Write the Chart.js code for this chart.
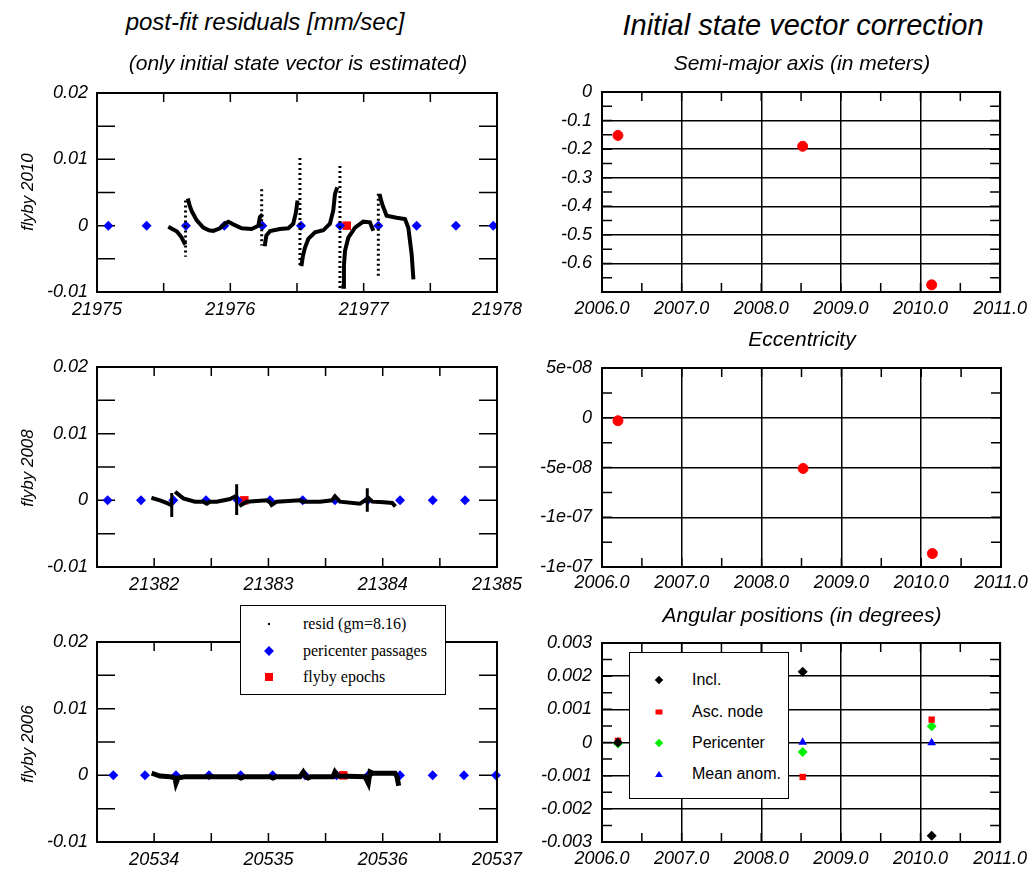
<!DOCTYPE html>
<html><head><meta charset="utf-8">
<script src="https://cdn.jsdelivr.net/npm/chart.js@4.4.1/dist/chart.umd.min.js"></script>
<style>
body{margin:0;background:#fff;width:1033px;height:870px;position:relative;overflow:hidden;font-family:'Liberation Sans',Arial,sans-serif;}
canvas{position:absolute;}
.t{position:absolute;white-space:nowrap;font-style:italic;color:#000;transform:translate(-50%,-50%);line-height:1;}
.yl{position:absolute;white-space:nowrap;font-style:italic;font-size:17px;line-height:1;transform:translate(-50%,-50%) rotate(-90deg);}
.leg{position:absolute;background:#fff;border:1.5px solid #000;box-sizing:border-box;}
.it{position:absolute;white-space:nowrap;line-height:1;transform:translateY(-50%);}
.mk{position:absolute;transform:translate(-50%,-50%);}
</style>
</head><body>
<canvas id="c1" width="540" height="270" style="left:0;top:60px"></canvas>
<canvas id="c2" width="540" height="270" style="left:0;top:334px"></canvas>
<canvas id="c3" width="540" height="261" style="left:0;top:609px"></canvas>
<canvas id="c4" width="513" height="270" style="left:520px;top:60px"></canvas>
<canvas id="c5" width="513" height="270" style="left:520px;top:335px"></canvas>
<canvas id="c6" width="513" height="260" style="left:520px;top:610px"></canvas>

<div class="t" style="left:265px;top:22px;font-size:24px">post-fit residuals [mm/sec]</div>
<div class="t" style="left:298px;top:62px;font-size:21px">(only initial state vector is estimated)</div>
<div class="t" style="left:803px;top:25px;font-size:29px">Initial state vector correction</div>
<div class="t" style="left:802px;top:62px;font-size:21px">Semi-major axis (in meters)</div>
<div class="t" style="left:802px;top:338px;font-size:21px">Eccentricity</div>
<div class="t" style="left:802px;top:614px;font-size:21px">Angular positions (in degrees)</div>

<div class="yl" style="left:27px;top:192px">flyby 2010</div>
<div class="yl" style="left:27px;top:468px">flyby 2008</div>
<div class="yl" style="left:27px;top:744px">flyby 2006</div>

<div class="leg" style="left:240px;top:605px;width:206px;height:90px;font-family:'Liberation Serif',serif;font-size:16px;">
  <div class="mk" style="left:28px;top:18px;width:2px;height:2px;background:#000"></div>
  <div class="it" style="left:62px;top:18px">resid (gm=8.16)</div>
  <div class="mk" style="left:28px;top:45px;width:7px;height:7px;background:#0000ff;transform:translate(-50%,-50%) rotate(45deg)"></div>
  <div class="it" style="left:62px;top:45px">pericenter passages</div>
  <div class="mk" style="left:28px;top:71px;width:8px;height:8px;background:#ff0000"></div>
  <div class="it" style="left:62px;top:71px">flyby epochs</div>
</div>

<div class="leg" style="left:629px;top:652px;width:160px;height:147px;font-size:16px;">
  <div class="mk" style="left:29px;top:27px;width:6px;height:6px;background:#000;transform:translate(-50%,-50%) rotate(45deg)"></div>
  <div class="it" style="left:62px;top:27px">Incl.</div>
  <div class="mk" style="left:29px;top:59px;width:7px;height:5px;background:#ff0000"></div>
  <div class="it" style="left:62px;top:59px">Asc. node</div>
  <div class="mk" style="left:29px;top:90px;width:6px;height:6px;background:#00ee00;transform:translate(-50%,-50%) rotate(45deg)"></div>
  <div class="it" style="left:62px;top:90px">Pericenter</div>
  <div class="mk" style="left:29px;top:121px;width:0;height:0;border-left:4px solid transparent;border-right:4px solid transparent;border-bottom:6px solid #0000ff"></div>
  <div class="it" style="left:62px;top:121px">Mean anom.</div>
</div>

<script>
// ================= DATA =================
// residual y-axis (all three flybys)
const resYTicks = [0.02, 0.01, 0, -0.01];
const resYText  = ['0.02', '0.01', '0', '-0.01'];

// ---- flyby 2010 ----
const f2010XRange = [21975, 21978];
const f2010XTicks = [21975, 21976, 21977, 21978];
const f2010PeriX  = [21975.085, 21975.372, 21975.667, 21975.955, 21976.240, 21976.530, 21976.823, 21977.110, 21977.397, 21977.692, 21977.972];
const f2010EpochX = [21976.873];
const f2010ResX = [21975.548, 21975.600, 21975.635, 21975.655, null,
  21975.685, 21975.695, 21975.710, 21975.748, 21975.797, 21975.840, 21975.872, 21975.922, 21975.960, 21975.985, 21976.022, 21976.085, 21976.160, 21976.210, 21976.222, 21976.232, null,
  21976.260, 21976.270, 21976.298, 21976.372, 21976.435, 21976.472, 21976.492, 21976.502, null,
  21976.535, 21976.545, 21976.560, 21976.585, 21976.635, 21976.697, 21976.747, 21976.772, 21976.785, 21976.797, null,
  21976.847, 21976.852, 21976.860, 21976.885, 21976.935, 21976.997, 21977.047, 21977.067, null,
  21977.122, 21977.135, 21977.147, 21977.172, 21977.247, 21977.310, 21977.335, 21977.360, 21977.372];
const f2010ResY = [-0.0003, -0.0009, -0.0018, -0.0026, null,
  0.0038, 0.0030, 0.0022, 0.0008, -0.0003, -0.0007, -0.0008, -0.0004, 0.0003, 0.0006, 0.0002, -0.0004, -0.0005, 0.0000, 0.0013, 0.0015, null,
  -0.0028, -0.0015, -0.0008, -0.0005, -0.0004, 0.0003, 0.0020, 0.0035, null,
  -0.0058, -0.0045, -0.0033, -0.0020, -0.0010, -0.0007, 0.0003, 0.0023, 0.0048, 0.0055, null,
  -0.0092, -0.0060, -0.0038, -0.0018, -0.0003, 0.0006, 0.0005, -0.0005, null,
  0.0045, 0.0035, 0.0028, 0.0015, 0.0012, 0.0010, -0.0003, -0.0043, -0.0078];
const f2010SpikeX  = [21975.664, 21976.235, 21976.522, 21976.822, 21977.110];
const f2010SpikeHi = [0.0038, 0.0055, 0.0102, 0.0090, 0.0048];
const f2010SpikeLo = [-0.0047, -0.0030, -0.0060, -0.0098, -0.0078];

// ---- flyby 2008 ----
const f2008XRange = [21381.5, 21385];
const f2008XTicks = [21382, 21383, 21384, 21385];
const f2008PeriX  = [21381.593, 21381.885, 21382.168, 21382.454, 21382.731, 21383.014, 21383.300, 21383.582, 21383.868, 21384.152, 21384.438, 21384.720];
const f2008EpochX = [21382.789];
const f2008ResX = [21381.993, 21382.051, 21382.124, 21382.147, null,
  21382.197, 21382.255, 21382.357, 21382.430, 21382.460, 21382.489, 21382.547, 21382.664, 21382.699, null,
  21382.760, 21382.810, 21382.985, 21383.014, 21383.028, 21383.072, 21383.276, 21383.303, 21383.451, 21383.556, 21383.582, 21383.626, 21383.801, 21383.845, null,
  21383.879, 21383.909, 21384.011, 21384.084, 21384.099];
const f2008ResY = [0.0003, 0.0000, -0.0005, -0.0007, null,
  0.0011, 0.0003, -0.0002, -0.0002, -0.0005, -0.0002, -0.0002, 0.0002, 0.0005, null,
  -0.0007, -0.0002, 0.0000, -0.0003, -0.0007, -0.0002, 0.0000, -0.0002, -0.0002, 0.0000, 0.0006, -0.0002, -0.0005, 0.0000, null,
  0.0003, -0.0002, -0.0003, -0.0004, -0.0007];
const f2008SpikeX  = [21382.154, 21382.722, 21383.865];
const f2008SpikeHi = [0.0011, 0.0024, 0.0018];
const f2008SpikeLo = [-0.0025, -0.0022, -0.0017];

// ---- flyby 2006 ----
const f2006XRange = [20533.5, 20537];
const f2006XTicks = [20534, 20535, 20536, 20537];
const f2006PeriX  = [20533.643, 20533.920, 20534.191, 20534.480, 20534.757, 20535.037, 20535.320, 20535.597, 20535.874, 20536.151, 20536.437, 20536.711, 20536.991];
const f2006EpochX = [20535.655];
const f2006ResX = [20533.999, 20534.051, 20534.139, 20534.182, 20534.191, 20534.209, 20534.270, 20534.734, 20534.760, 20534.786,
  20535.014, 20535.040, 20535.066, 20535.276, 20535.305, 20535.329, 20535.346, 20535.372, 20535.565, 20535.582, 20535.609,
  20535.845, 20535.874, 20535.889, 20535.915, 20536.108, 20536.125, 20536.136];
const f2006ResY = [0.0002, -0.0001, -0.0002, -0.0004, -0.0012, -0.0004, -0.0002, -0.0002, -0.0004, -0.0002,
  -0.0002, -0.0004, -0.0002, -0.0002, 0.0005, -0.0002, -0.0004, -0.0002, -0.0002, 0.0005, -0.0001,
  -0.0002, -0.0012, 0.0005, 0.0003, 0.0003, -0.0002, -0.0012];
const f2006SpikeX  = [];
const f2006SpikeHi = [];
const f2006SpikeLo = [];

// ---- initial state vector correction ----
const yearRange   = [2006, 2011];
const yearTicks   = [2006, 2007, 2008, 2009, 2010, 2011];
const yearText    = ['2006.0', '2007.0', '2008.0', '2009.0', '2010.0', '2011.0'];
const flybyYear   = [2006.2, 2008.52, 2010.14];

const smaVals     = [-0.152, -0.190, -0.675];
const smaTicks    = [0, -0.1, -0.2, -0.3, -0.4, -0.5, -0.6, -0.7];
const smaText     = ['0', '-0.1', '-0.2', '-0.3', '-0.4', '-0.5', '-0.6', ''];

const eccVals     = [-3e-9, -5.1e-8, -1.365e-7];
const eccTicks    = [5e-8, 0, -5e-8, -1e-7, -1.5e-7];
const eccText     = ['5e-08', '0', '-5e-08', '-1e-07', '-1e-07'];

const inclVals    = [0.00000, 0.00213, -0.00281];
const ascVals     = [0.00005, -0.00104, 0.00069];
const periVals    = [-0.00003, -0.00029, 0.00049];
const manomVals   = [0.00001, 0.00001, -0.00001];
const angTicks    = [0.003, 0.002, 0.001, 0, -0.001, -0.002, -0.003];
const angText     = ['0.003', '0.002', '0.001', '0', '-0.001', '-0.002', '-0.003'];

// ================= DRAWING =================
Chart.defaults.font.family = "'Liberation Sans', Arial, sans-serif";
Chart.defaults.font.size = 18;
Chart.defaults.font.style = 'italic';
Chart.defaults.color = '#000';

const frame = {
  id: 'frame',
  beforeDatasetsDraw(chart, args, o) {
    const {ctx, chartArea: a, scales: {x, y}} = chart;
    ctx.save();
    ctx.strokeStyle = '#000';
    ctx.lineWidth = 1.5;
    ctx.beginPath();
    const nx = Math.round((x.max - x.min) / o.xStep);
    for (let i = 0; i <= nx; i++) {
      const p = x.getPixelForValue(x.min + i * o.xStep);
      ctx.moveTo(p, a.top); ctx.lineTo(p, a.top + o.xLen);
      ctx.moveTo(p, a.bottom); ctx.lineTo(p, a.bottom - o.xLen);
    }
    const ny = Math.round((y.max - y.min) / o.yStep);
    for (let i = 0; i <= ny; i++) {
      const p = y.getPixelForValue(y.min + i * o.yStep);
      ctx.moveTo(a.left, p); ctx.lineTo(a.left + o.yLen, p);
      ctx.moveTo(a.right, p); ctx.lineTo(a.right - o.yLen, p);
    }
    ctx.stroke();
    ctx.restore();
  },
  afterDatasetsDraw(chart) {
    const {ctx, chartArea: a} = chart;
    ctx.save();
    ctx.strokeStyle = '#000';
    ctx.lineWidth = 2;
    ctx.strokeRect(a.left, a.top, a.right - a.left, a.bottom - a.top);
    ctx.restore();
  }
};
Chart.register(frame);

function fixedTicks(vals) {
  return s => { s.ticks = vals.map(v => ({value: v})); };
}

function makeChart(id, geo, datasets, xs, ys, frameOpts) {
  const cv = document.getElementById(id);
  const cx = parseFloat(cv.style.left) || 0, cy = parseFloat(cv.style.top) || 0;
  const yW = geo[0] - cx, padTop = geo[1] - cy, padRight = cx + cv.width - geo[2], xH = cy + cv.height - geo[3];
  xs.afterFit = s => { s.height = xH; };
  ys.afterFit = s => { s.width = yW; };
  return new Chart(cv, {
    type: 'scatter',
    data: {datasets},
    options: {
      responsive: false, animation: false, devicePixelRatio: 1, events: [],
      layout: {padding: {left: 0, top: padTop, right: padRight, bottom: 0}},
      plugins: {legend: {display: false}, tooltip: {enabled: false}, frame: frameOpts},
      scales: {x: xs, y: ys}
    }
  });
}

function residChart(id, geo, xRange, xTicks, resX, resY, spX, spHi, spLo, periX, epochX, lw, spDash, spW) {
  const resData = resX.map((x, i) => x === null ? {x: resX[i - 1], y: null} : {x: x, y: resY[i]});
  const spData = [];
  spX.forEach((x, i) => { spData.push({x: x, y: spHi[i]}, {x: x, y: spLo[i]}, {x: x, y: null}); });
  const datasets = [
    {data: resData, showLine: true, spanGaps: false, borderColor: '#000', borderWidth: lw, pointRadius: 0, borderCapStyle: 'square', clip: false},
    {data: spData, showLine: true, spanGaps: false, borderColor: '#000', borderWidth: spW, borderDash: spDash, pointRadius: 0, clip: false},
    {data: periX.map(x => ({x: x, y: 0})), pointStyle: 'rectRot', pointRadius: 5, backgroundColor: '#0000ff', borderColor: '#0000ff', borderWidth: 0, clip: false},
    {data: epochX.map(x => ({x: x, y: 0})), pointStyle: 'rect', pointRadius: 6, backgroundColor: '#ff0000', borderColor: '#ff0000', borderWidth: 0, clip: false}
  ];
  const xs = {type: 'linear', min: xRange[0], max: xRange[1], afterBuildTicks: fixedTicks(xTicks),
    ticks: {padding: 7, maxRotation: 0, autoSkip: false, callback: v => String(v)},
    grid: {display: false, drawTicks: false}, border: {display: false}};
  const ys = {type: 'linear', min: -0.01, max: 0.02, afterBuildTicks: fixedTicks(resYTicks),
    ticks: {padding: 9, autoSkip: false, callback: v => resYText[resYTicks.indexOf(v)]},
    grid: {display: false, drawTicks: false}, border: {display: false}};
  return makeChart(id, geo, datasets, xs, ys, {xStep: 0.5, xLen: 9, yStep: 0.005, yLen: 18});
}

residChart('c1', [97, 93, 497, 292], f2010XRange, f2010XTicks, f2010ResX, f2010ResY, f2010SpikeX, f2010SpikeHi, f2010SpikeLo, f2010PeriX, f2010EpochX, 4, [2, 3], 3);
residChart('c2', [97, 367, 497, 567], f2008XRange, f2008XTicks, f2008ResX, f2008ResY, f2008SpikeX, f2008SpikeHi, f2008SpikeLo, f2008PeriX, f2008EpochX, 4, [], 3);
residChart('c3', [97, 642, 497, 842], f2006XRange, f2006XTicks, f2006ResX, f2006ResY, f2006SpikeX, f2006SpikeHi, f2006SpikeLo, f2006PeriX, f2006EpochX, 5, [], 3);

function stateChart(id, geo, datasets, yMin, yMax, yTicks, yText, yStep, labPad) {
  const xs = {type: 'linear', min: yearRange[0], max: yearRange[1], afterBuildTicks: fixedTicks(yearTicks),
    ticks: {padding: labPad, maxRotation: 0, autoSkip: false, callback: v => yearText[yearTicks.indexOf(v)]},
    grid: {display: true, drawTicks: false, color: '#000', lineWidth: 1.5}, border: {display: false}};
  const ys = {type: 'linear', min: yMin, max: yMax, afterBuildTicks: fixedTicks(yTicks),
    ticks: {padding: 10, autoSkip: false, callback: v => yText[yTicks.indexOf(v)]},
    grid: {display: true, drawTicks: false, color: '#000', lineWidth: 1.5}, border: {display: false}};
  return makeChart(id, geo, datasets, xs, ys, {xStep: 0.5, xLen: 9, yStep: yStep, yLen: 10});
}

function pts(vals) { return flybyYear.map((x, i) => ({x: x, y: vals[i]})); }
const redDot = {pointStyle: 'circle', pointRadius: 5, backgroundColor: '#ff0000', borderColor: '#ff0000', borderWidth: 1, clip: false};

stateChart('c4', [602, 92, 1001, 292], [Object.assign({data: pts(smaVals)}, redDot)], -0.7, 0, smaTicks, smaText, 0.05, 6);
stateChart('c5', [602, 368, 1001, 567], [Object.assign({data: pts(eccVals)}, redDot)], -1.5e-7, 5e-8, eccTicks, eccText, 2.5e-8, 5);
stateChart('c6', [602, 643, 1001, 842], [
  {data: pts(inclVals), pointStyle: 'rectRot', pointRadius: 5, backgroundColor: '#000', borderColor: '#000', borderWidth: 0, clip: false},
  {data: pts(ascVals), pointStyle: 'rect', pointRadius: 4.5, backgroundColor: '#ff0000', borderColor: '#ff0000', borderWidth: 0, clip: false},
  {data: pts(periVals), pointStyle: 'rectRot', pointRadius: 5, backgroundColor: '#00ee00', borderColor: '#00ee00', borderWidth: 0, clip: false},
  {data: pts(manomVals), pointStyle: 'triangle', pointRadius: 5, backgroundColor: '#0000ff', borderColor: '#0000ff', borderWidth: 0, clip: false}
], -0.003, 0.003, angTicks, angText, 0.0005, 6);
</script>
</body></html>
